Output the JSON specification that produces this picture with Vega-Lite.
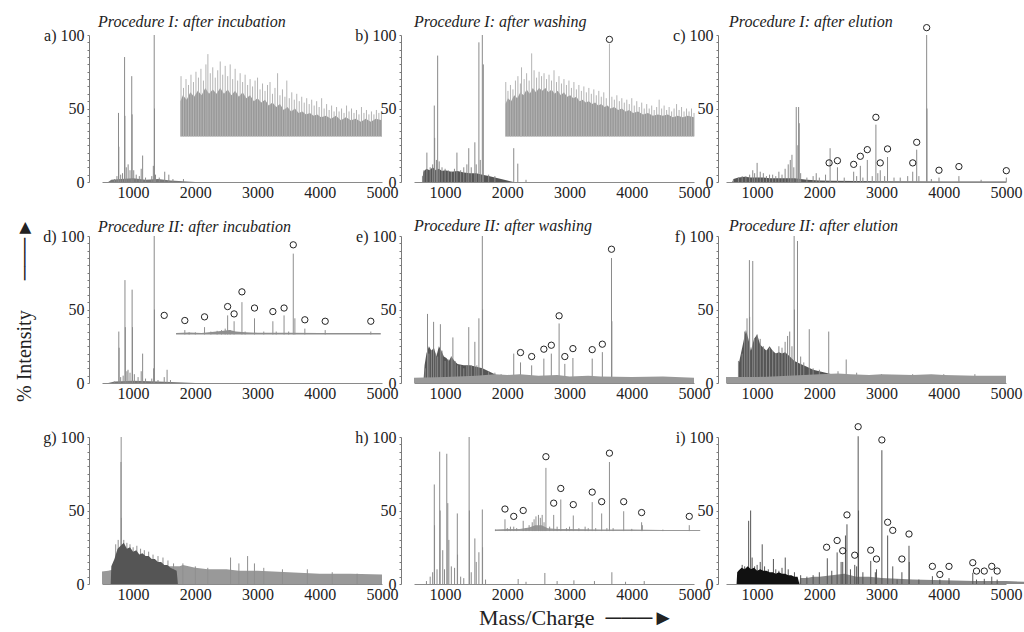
{
"$schema": "https://vega.github.io/schema/vega-lite/v6.json",
"background": "white",
"padding": {"left": 14, "top": 14, "right": 0, "bottom": 0},
"columns": 3,
"spacing": {"row": 54, "column": 32},
"bounds": "flush",
"config": {
  "view": {"stroke": null},
  "font": "Liberation Serif",
  "axis": {"grid": false, "domainColor": "#7a7a7a", "tickColor": "#7a7a7a", "labelFont": "Liberation Serif", "labelFontSize": 16, "labelColor": "#222", "titleFont": "Liberation Serif", "titleFontWeight": "normal", "titleColor": "#222", "labelFlush": false, "labelOverlap": false},
  "axisX": {"ticks": false, "labelPadding": 2, "domainColor": "#8a8a8a"},
  "axisY": {"tickSize": 2, "labelPadding": 3, "labelBaseline": "middle"},
  "title": {"anchor": "start", "frame": "group", "fontStyle": "italic", "fontWeight": "normal", "fontSize": 16, "font": "Liberation Serif", "color": "#222", "offset": -3, "baseline": "alphabetic"}
},
"datasets": {
  "a_peaks": [{"mz":700,"intensity":2},{"mz":740,"intensity":4},{"mz":765,"intensity":47},{"mz":770,"intensity":24},{"mz":800,"intensity":5},{"mz":830,"intensity":6},{"mz":863,"intensity":85},{"mz":868,"intensity":45},{"mz":890,"intensity":10},{"mz":920,"intensity":12},{"mz":950,"intensity":8},{"mz":978,"intensity":72},{"mz":984,"intensity":46},{"mz":1010,"intensity":8},{"mz":1050,"intensity":5},{"mz":1100,"intensity":4},{"mz":1130,"intensity":9},{"mz":1153,"intensity":18},{"mz":1200,"intensity":3},{"mz":1300,"intensity":4},{"mz":1325,"intensity":11},{"mz":1339,"intensity":100},{"mz":1344,"intensity":50},{"mz":1360,"intensity":5},{"mz":1420,"intensity":3},{"mz":1508,"intensity":7},{"mz":1574,"intensity":5},{"mz":1640,"intensity":2},{"mz":1809,"intensity":2}],
  "a_low": [{"mz":600,"intensity":0},{"mz":650,"intensity":1.5},{"mz":800,"intensity":2},{"mz":1000,"intensity":2.5},{"mz":1200,"intensity":1.5},{"mz":1400,"intensity":2},{"mz":1600,"intensity":1},{"mz":1800,"intensity":0.5},{"mz":2000,"intensity":0}],
  "a_inset": [{"mz":1760,"intensity":55},{"mz":1800,"intensity":59},{"mz":1860,"intensity":56},{"mz":1920,"intensity":61},{"mz":1980,"intensity":58},{"mz":2040,"intensity":62},{"mz":2100,"intensity":59},{"mz":2160,"intensity":64},{"mz":2220,"intensity":60},{"mz":2280,"intensity":63},{"mz":2340,"intensity":60},{"mz":2400,"intensity":64},{"mz":2460,"intensity":60},{"mz":2520,"intensity":63},{"mz":2580,"intensity":59},{"mz":2640,"intensity":62},{"mz":2700,"intensity":58},{"mz":2760,"intensity":61},{"mz":2820,"intensity":57},{"mz":2880,"intensity":59},{"mz":2940,"intensity":55},{"mz":3000,"intensity":57},{"mz":3060,"intensity":54},{"mz":3120,"intensity":56},{"mz":3180,"intensity":52},{"mz":3240,"intensity":54},{"mz":3300,"intensity":51},{"mz":3360,"intensity":53},{"mz":3420,"intensity":49},{"mz":3480,"intensity":51},{"mz":3540,"intensity":48},{"mz":3600,"intensity":50},{"mz":3660,"intensity":47},{"mz":3720,"intensity":48},{"mz":3780,"intensity":46},{"mz":3840,"intensity":47},{"mz":3900,"intensity":45},{"mz":3960,"intensity":46},{"mz":4020,"intensity":44},{"mz":4100,"intensity":45},{"mz":4180,"intensity":43},{"mz":4260,"intensity":45},{"mz":4340,"intensity":42},{"mz":4420,"intensity":44},{"mz":4500,"intensity":42},{"mz":4580,"intensity":43},{"mz":4660,"intensity":41},{"mz":4740,"intensity":43},{"mz":4820,"intensity":41},{"mz":4900,"intensity":43},{"mz":5000,"intensity":42}],
  "a_spikes": [{"mz":1770,"intensity":72},{"mz":1810,"intensity":64},{"mz":1850,"intensity":70},{"mz":1890,"intensity":66},{"mz":1930,"intensity":73},{"mz":1970,"intensity":68},{"mz":2010,"intensity":75},{"mz":2050,"intensity":71},{"mz":2090,"intensity":77},{"mz":2130,"intensity":69},{"mz":2170,"intensity":80},{"mz":2202,"intensity":87},{"mz":2240,"intensity":74},{"mz":2280,"intensity":78},{"mz":2320,"intensity":71},{"mz":2360,"intensity":76},{"mz":2400,"intensity":82},{"mz":2440,"intensity":73},{"mz":2480,"intensity":79},{"mz":2520,"intensity":72},{"mz":2560,"intensity":80},{"mz":2600,"intensity":70},{"mz":2640,"intensity":77},{"mz":2680,"intensity":69},{"mz":2720,"intensity":74},{"mz":2760,"intensity":68},{"mz":2800,"intensity":73},{"mz":2840,"intensity":66},{"mz":2880,"intensity":70},{"mz":2920,"intensity":65},{"mz":2960,"intensity":69},{"mz":3000,"intensity":71},{"mz":3040,"intensity":63},{"mz":3080,"intensity":67},{"mz":3120,"intensity":62},{"mz":3160,"intensity":66},{"mz":3200,"intensity":68},{"mz":3240,"intensity":60},{"mz":3280,"intensity":64},{"mz":3322,"intensity":74},{"mz":3360,"intensity":59},{"mz":3400,"intensity":63},{"mz":3440,"intensity":58},{"mz":3470,"intensity":69},{"mz":3510,"intensity":57},{"mz":3550,"intensity":61},{"mz":3590,"intensity":56},{"mz":3630,"intensity":60},{"mz":3670,"intensity":55},{"mz":3710,"intensity":58},{"mz":3750,"intensity":54},{"mz":3790,"intensity":57},{"mz":3830,"intensity":53},{"mz":3870,"intensity":56},{"mz":3910,"intensity":52},{"mz":3950,"intensity":55},{"mz":3990,"intensity":51},{"mz":4030,"intensity":57},{"mz":4070,"intensity":50},{"mz":4110,"intensity":53},{"mz":4150,"intensity":49},{"mz":4190,"intensity":52},{"mz":4230,"intensity":48},{"mz":4270,"intensity":51},{"mz":4310,"intensity":48},{"mz":4350,"intensity":50},{"mz":4390,"intensity":47},{"mz":4430,"intensity":52},{"mz":4470,"intensity":48},{"mz":4510,"intensity":50},{"mz":4550,"intensity":47},{"mz":4590,"intensity":49},{"mz":4630,"intensity":46},{"mz":4670,"intensity":51},{"mz":4710,"intensity":47},{"mz":4750,"intensity":49},{"mz":4790,"intensity":46},{"mz":4830,"intensity":48},{"mz":4870,"intensity":46},{"mz":4910,"intensity":49},{"mz":4950,"intensity":47},{"mz":4990,"intensity":48}],
  "b_peaks": [{"mz":636,"intensity":4},{"mz":660,"intensity":8},{"mz":707,"intensity":20},{"mz":760,"intensity":10},{"mz":800,"intensity":12},{"mz":826,"intensity":52},{"mz":832,"intensity":30},{"mz":860,"intensity":15},{"mz":880,"intensity":86},{"mz":905,"intensity":14},{"mz":950,"intensity":10},{"mz":1000,"intensity":9},{"mz":1050,"intensity":8},{"mz":1100,"intensity":7},{"mz":1150,"intensity":9},{"mz":1190,"intensity":20},{"mz":1250,"intensity":8},{"mz":1300,"intensity":10},{"mz":1350,"intensity":12},{"mz":1380,"intensity":23},{"mz":1420,"intensity":10},{"mz":1478,"intensity":27},{"mz":1500,"intensity":12},{"mz":1543,"intensity":95},{"mz":1565,"intensity":15},{"mz":1598,"intensity":100},{"mz":1614,"intensity":80},{"mz":1700,"intensity":5},{"mz":1800,"intensity":4},{"mz":2103,"intensity":23},{"mz":2168,"intensity":12.5},{"mz":2300,"intensity":1.5}],
  "b_dark": [{"mz":630,"intensity":0},{"mz":650,"intensity":7},{"mz":700,"intensity":9},{"mz":750,"intensity":8},{"mz":800,"intensity":10},{"mz":850,"intensity":8},{"mz":900,"intensity":9},{"mz":950,"intensity":7.5},{"mz":1000,"intensity":8},{"mz":1100,"intensity":7},{"mz":1200,"intensity":7.5},{"mz":1300,"intensity":6.5},{"mz":1400,"intensity":6},{"mz":1500,"intensity":6},{"mz":1600,"intensity":5},{"mz":1700,"intensity":4},{"mz":1800,"intensity":3},{"mz":1900,"intensity":2},{"mz":2000,"intensity":1},{"mz":2100,"intensity":0}],
  "b_inset": [{"mz":1970,"intensity":53},{"mz":2010,"intensity":57},{"mz":2060,"intensity":55},{"mz":2110,"intensity":59},{"mz":2160,"intensity":57},{"mz":2210,"intensity":61},{"mz":2260,"intensity":59},{"mz":2310,"intensity":63},{"mz":2360,"intensity":60},{"mz":2410,"intensity":64},{"mz":2460,"intensity":61},{"mz":2510,"intensity":64},{"mz":2560,"intensity":62},{"mz":2610,"intensity":64},{"mz":2660,"intensity":61},{"mz":2710,"intensity":63},{"mz":2760,"intensity":60},{"mz":2810,"intensity":62},{"mz":2860,"intensity":59},{"mz":2910,"intensity":61},{"mz":2960,"intensity":58},{"mz":3010,"intensity":59},{"mz":3060,"intensity":57},{"mz":3110,"intensity":58},{"mz":3160,"intensity":55},{"mz":3210,"intensity":56},{"mz":3260,"intensity":54},{"mz":3310,"intensity":55},{"mz":3360,"intensity":53},{"mz":3410,"intensity":54},{"mz":3460,"intensity":52},{"mz":3510,"intensity":53},{"mz":3560,"intensity":51},{"mz":3610,"intensity":52},{"mz":3660,"intensity":50},{"mz":3720,"intensity":51},{"mz":3780,"intensity":49},{"mz":3840,"intensity":50},{"mz":3900,"intensity":48},{"mz":3960,"intensity":49},{"mz":4020,"intensity":47},{"mz":4100,"intensity":48},{"mz":4180,"intensity":46},{"mz":4260,"intensity":47},{"mz":4340,"intensity":45},{"mz":4420,"intensity":46},{"mz":4500,"intensity":45},{"mz":4580,"intensity":46},{"mz":4660,"intensity":44},{"mz":4740,"intensity":45},{"mz":4820,"intensity":44},{"mz":4900,"intensity":45},{"mz":5000,"intensity":44}],
  "b_spikes": [{"mz":1975,"intensity":68},{"mz":2010,"intensity":62},{"mz":2050,"intensity":66},{"mz":2090,"intensity":63},{"mz":2130,"intensity":69},{"mz":2170,"intensity":72},{"mz":2210,"intensity":67},{"mz":2228,"intensity":78},{"mz":2270,"intensity":70},{"mz":2310,"intensity":74},{"mz":2350,"intensity":69},{"mz":2391,"intensity":87.5},{"mz":2430,"intensity":76},{"mz":2470,"intensity":71},{"mz":2510,"intensity":75},{"mz":2550,"intensity":72},{"mz":2590,"intensity":74},{"mz":2630,"intensity":70},{"mz":2670,"intensity":73},{"mz":2710,"intensity":69},{"mz":2750,"intensity":76},{"mz":2790,"intensity":68},{"mz":2830,"intensity":72},{"mz":2870,"intensity":67},{"mz":2910,"intensity":70},{"mz":2950,"intensity":66},{"mz":2990,"intensity":69},{"mz":3030,"intensity":64},{"mz":3070,"intensity":68},{"mz":3110,"intensity":63},{"mz":3150,"intensity":66},{"mz":3190,"intensity":62},{"mz":3230,"intensity":65},{"mz":3270,"intensity":61},{"mz":3310,"intensity":64},{"mz":3350,"intensity":60},{"mz":3390,"intensity":63},{"mz":3430,"intensity":59},{"mz":3470,"intensity":62},{"mz":3510,"intensity":58},{"mz":3550,"intensity":61},{"mz":3590,"intensity":57},{"mz":3641,"intensity":94},{"mz":3680,"intensity":58},{"mz":3720,"intensity":56},{"mz":3760,"intensity":59},{"mz":3800,"intensity":55},{"mz":3840,"intensity":57},{"mz":3880,"intensity":54},{"mz":3920,"intensity":56},{"mz":3960,"intensity":53},{"mz":4000,"intensity":57},{"mz":4040,"intensity":52},{"mz":4080,"intensity":55},{"mz":4120,"intensity":51},{"mz":4160,"intensity":54},{"mz":4200,"intensity":50},{"mz":4240,"intensity":53},{"mz":4280,"intensity":50},{"mz":4320,"intensity":52},{"mz":4360,"intensity":49},{"mz":4400,"intensity":51},{"mz":4440,"intensity":56},{"mz":4480,"intensity":50},{"mz":4520,"intensity":52},{"mz":4560,"intensity":49},{"mz":4600,"intensity":51},{"mz":4640,"intensity":48},{"mz":4680,"intensity":50},{"mz":4720,"intensity":53},{"mz":4760,"intensity":49},{"mz":4800,"intensity":51},{"mz":4840,"intensity":48},{"mz":4880,"intensity":50},{"mz":4920,"intensity":48},{"mz":4960,"intensity":50},{"mz":5000,"intensity":47}],
  "b_circles": [{"mz":3641,"intensity":97}],
  "c_peaks": [{"mz":620,"intensity":2},{"mz":700,"intensity":3},{"mz":760,"intensity":4},{"mz":820,"intensity":4},{"mz":880,"intensity":5},{"mz":930,"intensity":8},{"mz":960,"intensity":6},{"mz":1000,"intensity":13},{"mz":1050,"intensity":7},{"mz":1100,"intensity":6},{"mz":1150,"intensity":4},{"mz":1200,"intensity":5},{"mz":1250,"intensity":5},{"mz":1300,"intensity":4},{"mz":1350,"intensity":7},{"mz":1400,"intensity":5},{"mz":1450,"intensity":9},{"mz":1500,"intensity":12},{"mz":1533,"intensity":15},{"mz":1560,"intensity":18.5},{"mz":1590,"intensity":10},{"mz":1629,"intensity":51},{"mz":1655,"intensity":25},{"mz":1667,"intensity":51},{"mz":1677,"intensity":40},{"mz":1700,"intensity":6},{"mz":1800,"intensity":3},{"mz":1900,"intensity":4},{"mz":1950,"intensity":6},{"mz":2000,"intensity":3},{"mz":2100,"intensity":5},{"mz":2173,"intensity":23},{"mz":2291,"intensity":10},{"mz":2400,"intensity":3},{"mz":2552,"intensity":7},{"mz":2600,"intensity":4},{"mz":2659,"intensity":11},{"mz":2700,"intensity":3},{"mz":2771,"intensity":15},{"mz":2850,"intensity":4},{"mz":2909,"intensity":39},{"mz":2940,"intensity":6},{"mz":2979,"intensity":8},{"mz":3050,"intensity":4},{"mz":3096,"intensity":17},{"mz":3200,"intensity":3},{"mz":3300,"intensity":3},{"mz":3420,"intensity":4},{"mz":3501,"intensity":7},{"mz":3565,"intensity":22},{"mz":3600,"intensity":4},{"mz":3725,"intensity":100},{"mz":3730,"intensity":50},{"mz":3800,"intensity":2},{"mz":3923,"intensity":3},{"mz":4243,"intensity":4},{"mz":4600,"intensity":1.5},{"mz":5005,"intensity":3}],
  "c_dark": [{"mz":600,"intensity":0},{"mz":620,"intensity":2},{"mz":700,"intensity":3},{"mz":800,"intensity":3.5},{"mz":900,"intensity":3},{"mz":1000,"intensity":3},{"mz":1100,"intensity":3},{"mz":1200,"intensity":2.5},{"mz":1300,"intensity":2.5},{"mz":1400,"intensity":2.5},{"mz":1500,"intensity":2.5},{"mz":1600,"intensity":2.5},{"mz":1700,"intensity":2},{"mz":1800,"intensity":1.5},{"mz":2000,"intensity":1},{"mz":2200,"intensity":0.8},{"mz":3000,"intensity":0.5},{"mz":4000,"intensity":0.4},{"mz":5000,"intensity":0.3}],
  "c_circles": [{"mz":2157,"intensity":13},{"mz":2291,"intensity":14.5},{"mz":2552,"intensity":12},{"mz":2659,"intensity":17.5},{"mz":2771,"intensity":22},{"mz":2909,"intensity":44},{"mz":2979,"intensity":13},{"mz":3096,"intensity":22.5},{"mz":3501,"intensity":13},{"mz":3565,"intensity":27},{"mz":3725,"intensity":105},{"mz":3923,"intensity":8},{"mz":4243,"intensity":10.5},{"mz":5005,"intensity":7.7}],
  "d_peaks": [{"mz":700,"intensity":1},{"mz":770,"intensity":35},{"mz":775,"intensity":24},{"mz":800,"intensity":4},{"mz":840,"intensity":5},{"mz":869,"intensity":70},{"mz":875,"intensity":38},{"mz":900,"intensity":8},{"mz":918,"intensity":9},{"mz":950,"intensity":7},{"mz":984,"intensity":63.5},{"mz":990,"intensity":38},{"mz":1020,"intensity":6},{"mz":1080,"intensity":4},{"mz":1130,"intensity":8},{"mz":1153,"intensity":20},{"mz":1200,"intensity":3},{"mz":1300,"intensity":3},{"mz":1330,"intensity":10},{"mz":1339,"intensity":100},{"mz":1343,"intensity":50},{"mz":1400,"intensity":2},{"mz":1500,"intensity":4},{"mz":1546,"intensity":9},{"mz":1600,"intensity":2}],
  "d_low": [{"mz":600,"intensity":0},{"mz":700,"intensity":1},{"mz":1000,"intensity":1.5},{"mz":1400,"intensity":1},{"mz":1700,"intensity":0.5},{"mz":2000,"intensity":0}],
  "d_floor": [{"mz":1690,"intensity":34},{"mz":1900,"intensity":34.3},{"mz":2100,"intensity":34},{"mz":2300,"intensity":34.8},{"mz":2450,"intensity":35.5},{"mz":2550,"intensity":36},{"mz":2650,"intensity":35},{"mz":2800,"intensity":34.5},{"mz":3000,"intensity":34.2},{"mz":3500,"intensity":34.2},{"mz":4000,"intensity":34},{"mz":4500,"intensity":34},{"mz":4980,"intensity":34}],
  "d_inset": [{"mz":1831,"intensity":36},{"mz":1900,"intensity":34.5},{"mz":2000,"intensity":34.5},{"mz":2148,"intensity":38},{"mz":2250,"intensity":35},{"mz":2350,"intensity":35.5},{"mz":2420,"intensity":36},{"mz":2480,"intensity":37},{"mz":2519,"intensity":46},{"mz":2560,"intensity":36},{"mz":2623,"intensity":42},{"mz":2749,"intensity":55},{"mz":2800,"intensity":35},{"mz":2951,"intensity":44},{"mz":3100,"intensity":35},{"mz":3246,"intensity":42},{"mz":3300,"intensity":35},{"mz":3426,"intensity":46},{"mz":3500,"intensity":35},{"mz":3574,"intensity":88},{"mz":3600,"intensity":44},{"mz":3760,"intensity":37},{"mz":4087,"intensity":36},{"mz":4820,"intensity":35}],
  "d_circles": [{"mz":1500,"intensity":46},{"mz":1831,"intensity":42.5},{"mz":2148,"intensity":45},{"mz":2519,"intensity":52},{"mz":2623,"intensity":47},{"mz":2749,"intensity":62},{"mz":2951,"intensity":51},{"mz":3246,"intensity":48.6},{"mz":3426,"intensity":51},{"mz":3574,"intensity":94},{"mz":3760,"intensity":43},{"mz":4087,"intensity":42},{"mz":4820,"intensity":42}],
  "e_peaks": [{"mz":680,"intensity":10},{"mz":717,"intensity":47},{"mz":740,"intensity":20},{"mz":780,"intensity":22},{"mz":815,"intensity":41.6},{"mz":850,"intensity":20},{"mz":880,"intensity":18},{"mz":924,"intensity":40},{"mz":950,"intensity":22},{"mz":1000,"intensity":15},{"mz":1050,"intensity":16},{"mz":1100,"intensity":18},{"mz":1125,"intensity":31},{"mz":1160,"intensity":15},{"mz":1200,"intensity":12},{"mz":1250,"intensity":12},{"mz":1300,"intensity":10},{"mz":1350,"intensity":12},{"mz":1380,"intensity":38},{"mz":1420,"intensity":12},{"mz":1478,"intensity":28},{"mz":1510,"intensity":12},{"mz":1543,"intensity":44},{"mz":1598,"intensity":100},{"mz":1602,"intensity":50},{"mz":1700,"intensity":8},{"mz":1800,"intensity":7},{"mz":1900,"intensity":6},{"mz":2103,"intensity":20},{"mz":2212,"intensity":14},{"mz":2391,"intensity":12},{"mz":2587,"intensity":16.6},{"mz":2707,"intensity":20},{"mz":2832,"intensity":40.5},{"mz":2924,"intensity":13},{"mz":3054,"intensity":17},{"mz":3364,"intensity":16.6},{"mz":3527,"intensity":21},{"mz":3674,"intensity":85},{"mz":3680,"intensity":42}],
  "e_dark": [{"mz":650,"intensity":0},{"mz":670,"intensity":12},{"mz":700,"intensity":20},{"mz":740,"intensity":25},{"mz":780,"intensity":22},{"mz":820,"intensity":24},{"mz":860,"intensity":18},{"mz":900,"intensity":25},{"mz":940,"intensity":22},{"mz":980,"intensity":18},{"mz":1020,"intensity":17},{"mz":1060,"intensity":15},{"mz":1100,"intensity":18},{"mz":1150,"intensity":15},{"mz":1200,"intensity":13},{"mz":1300,"intensity":12},{"mz":1400,"intensity":12},{"mz":1500,"intensity":11},{"mz":1600,"intensity":10},{"mz":1700,"intensity":8},{"mz":1800,"intensity":6},{"mz":1900,"intensity":3},{"mz":2000,"intensity":0}],
  "e_light": [{"mz":500,"intensity":3.5},{"mz":1000,"intensity":4},{"mz":1500,"intensity":5},{"mz":1800,"intensity":6},{"mz":2000,"intensity":5.5},{"mz":2200,"intensity":6},{"mz":2500,"intensity":5},{"mz":2800,"intensity":5.5},{"mz":3000,"intensity":4.5},{"mz":3300,"intensity":5},{"mz":3500,"intensity":4.5},{"mz":4000,"intensity":4},{"mz":4500,"intensity":4.5},{"mz":5000,"intensity":3.5}],
  "e_circles": [{"mz":2212,"intensity":20.7},{"mz":2391,"intensity":18},{"mz":2587,"intensity":23},{"mz":2707,"intensity":25.7},{"mz":2832,"intensity":45.7},{"mz":2924,"intensity":18},{"mz":3054,"intensity":23.4},{"mz":3364,"intensity":22.7},{"mz":3527,"intensity":26.4},{"mz":3674,"intensity":91}],
  "f_peaks": [{"mz":700,"intensity":15},{"mz":760,"intensity":20},{"mz":800,"intensity":35},{"mz":838,"intensity":44},{"mz":876,"intensity":83.6},{"mz":880,"intensity":45},{"mz":930,"intensity":83},{"mz":960,"intensity":30},{"mz":1000,"intensity":33},{"mz":1050,"intensity":30},{"mz":1100,"intensity":25},{"mz":1150,"intensity":22},{"mz":1200,"intensity":24},{"mz":1250,"intensity":22},{"mz":1300,"intensity":20},{"mz":1350,"intensity":25},{"mz":1400,"intensity":24},{"mz":1450,"intensity":28},{"mz":1490,"intensity":32},{"mz":1524,"intensity":35},{"mz":1560,"intensity":25},{"mz":1595,"intensity":100},{"mz":1600,"intensity":50},{"mz":1649,"intensity":96.6},{"mz":1700,"intensity":18},{"mz":1750,"intensity":14},{"mz":1838,"intensity":36.6},{"mz":1900,"intensity":10},{"mz":2000,"intensity":9},{"mz":2151,"intensity":35},{"mz":2300,"intensity":8},{"mz":2432,"intensity":16},{"mz":2600,"intensity":7},{"mz":3000,"intensity":6},{"mz":3500,"intensity":6},{"mz":4000,"intensity":6},{"mz":4500,"intensity":6}],
  "f_dark": [{"mz":690,"intensity":0},{"mz":700,"intensity":12},{"mz":740,"intensity":20},{"mz":780,"intensity":28},{"mz":820,"intensity":36},{"mz":860,"intensity":30},{"mz":900,"intensity":22},{"mz":950,"intensity":30},{"mz":1000,"intensity":33},{"mz":1050,"intensity":26},{"mz":1100,"intensity":24},{"mz":1150,"intensity":22},{"mz":1200,"intensity":25},{"mz":1250,"intensity":22},{"mz":1300,"intensity":20},{"mz":1350,"intensity":21},{"mz":1400,"intensity":20},{"mz":1450,"intensity":21},{"mz":1500,"intensity":19},{"mz":1550,"intensity":17},{"mz":1600,"intensity":15},{"mz":1650,"intensity":14},{"mz":1700,"intensity":13},{"mz":1800,"intensity":11},{"mz":1900,"intensity":9},{"mz":2000,"intensity":8},{"mz":2100,"intensity":7},{"mz":2200,"intensity":6},{"mz":2300,"intensity":0}],
  "f_light": [{"mz":500,"intensity":4},{"mz":1000,"intensity":4},{"mz":1500,"intensity":5},{"mz":2000,"intensity":6},{"mz":2300,"intensity":6.5},{"mz":2500,"intensity":6},{"mz":2800,"intensity":5.5},{"mz":3000,"intensity":6},{"mz":3500,"intensity":5.5},{"mz":3800,"intensity":6},{"mz":4000,"intensity":5.5},{"mz":4500,"intensity":5},{"mz":5000,"intensity":5}],
  "g_peaks": [{"mz":720,"intensity":27},{"mz":760,"intensity":30},{"mz":805,"intensity":83},{"mz":808,"intensity":100},{"mz":812,"intensity":45},{"mz":850,"intensity":30},{"mz":900,"intensity":28},{"mz":950,"intensity":27},{"mz":1000,"intensity":25},{"mz":1060,"intensity":26},{"mz":1120,"intensity":24},{"mz":1180,"intensity":23},{"mz":1250,"intensity":22},{"mz":1320,"intensity":20},{"mz":1400,"intensity":19},{"mz":1480,"intensity":18},{"mz":1560,"intensity":16},{"mz":1650,"intensity":14},{"mz":1800,"intensity":14},{"mz":2000,"intensity":12},{"mz":2200,"intensity":11},{"mz":2566,"intensity":18},{"mz":2700,"intensity":14},{"mz":2840,"intensity":19},{"mz":2950,"intensity":14},{"mz":3100,"intensity":11},{"mz":3400,"intensity":10},{"mz":3800,"intensity":10},{"mz":4200,"intensity":8},{"mz":4600,"intensity":7}],
  "g_dark": [{"mz":640,"intensity":0},{"mz":650,"intensity":12},{"mz":700,"intensity":17},{"mz":750,"intensity":24},{"mz":800,"intensity":26},{"mz":850,"intensity":28},{"mz":900,"intensity":24},{"mz":950,"intensity":25},{"mz":1000,"intensity":22},{"mz":1050,"intensity":23},{"mz":1100,"intensity":20},{"mz":1150,"intensity":21},{"mz":1200,"intensity":19},{"mz":1250,"intensity":19},{"mz":1300,"intensity":17},{"mz":1350,"intensity":17},{"mz":1400,"intensity":15},{"mz":1450,"intensity":15},{"mz":1500,"intensity":13},{"mz":1550,"intensity":13},{"mz":1600,"intensity":11},{"mz":1650,"intensity":10},{"mz":1700,"intensity":9},{"mz":1720,"intensity":0}],
  "g_light": [{"mz":500,"intensity":8.5},{"mz":600,"intensity":9},{"mz":700,"intensity":10},{"mz":1000,"intensity":11},{"mz":1500,"intensity":12},{"mz":1750,"intensity":12},{"mz":1800,"intensity":13},{"mz":2000,"intensity":11},{"mz":2200,"intensity":10},{"mz":2500,"intensity":10},{"mz":2700,"intensity":9},{"mz":3000,"intensity":9},{"mz":3500,"intensity":8},{"mz":4000,"intensity":7},{"mz":4500,"intensity":7},{"mz":5000,"intensity":6.5}],
  "h_peaks": [{"mz":700,"intensity":2},{"mz":760,"intensity":5},{"mz":800,"intensity":8},{"mz":826,"intensity":67.7},{"mz":830,"intensity":40},{"mz":870,"intensity":10},{"mz":913,"intensity":90},{"mz":920,"intensity":50},{"mz":962,"intensity":23},{"mz":990,"intensity":10},{"mz":1027,"intensity":88.6},{"mz":1043,"intensity":55},{"mz":1060,"intensity":30},{"mz":1100,"intensity":12},{"mz":1152,"intensity":11},{"mz":1196,"intensity":48},{"mz":1200,"intensity":20},{"mz":1250,"intensity":5},{"mz":1300,"intensity":4},{"mz":1386,"intensity":100},{"mz":1390,"intensity":50},{"mz":1420,"intensity":8},{"mz":1478,"intensity":31},{"mz":1500,"intensity":15},{"mz":1543,"intensity":21.6},{"mz":1598,"intensity":50.7},{"mz":1602,"intensity":25},{"mz":1650,"intensity":3},{"mz":2174,"intensity":3.4},{"mz":2300,"intensity":1.5},{"mz":2603,"intensity":7.5},{"mz":2800,"intensity":2},{"mz":3070,"intensity":2.5},{"mz":3400,"intensity":2},{"mz":3680,"intensity":8},{"mz":3900,"intensity":1.5},{"mz":4200,"intensity":2}],
  "h_floor": [{"mz":1800,"intensity":37},{"mz":2000,"intensity":37.5},{"mz":2200,"intensity":37.5},{"mz":2350,"intensity":38.5},{"mz":2450,"intensity":40},{"mz":2550,"intensity":40},{"mz":2650,"intensity":38},{"mz":2800,"intensity":37.5},{"mz":3000,"intensity":37.5},{"mz":3500,"intensity":37},{"mz":4000,"intensity":37},{"mz":4500,"intensity":36.8},{"mz":5100,"intensity":36.8}],
  "h_inset": [{"mz":1810,"intensity":37},{"mz":1962,"intensity":44},{"mz":2000,"intensity":38},{"mz":2050,"intensity":39},{"mz":2103,"intensity":39},{"mz":2150,"intensity":38},{"mz":2255,"intensity":43},{"mz":2300,"intensity":38},{"mz":2350,"intensity":40},{"mz":2400,"intensity":42},{"mz":2430,"intensity":44},{"mz":2460,"intensity":46},{"mz":2500,"intensity":47},{"mz":2530,"intensity":45},{"mz":2560,"intensity":47},{"mz":2590,"intensity":42},{"mz":2620,"intensity":79},{"mz":2680,"intensity":39},{"mz":2745,"intensity":47},{"mz":2800,"intensity":39},{"mz":2859,"intensity":57.5},{"mz":2950,"intensity":38},{"mz":3000,"intensity":39},{"mz":3060,"intensity":46.6},{"mz":3150,"intensity":38},{"mz":3250,"intensity":39},{"mz":3300,"intensity":38},{"mz":3364,"intensity":55.7},{"mz":3420,"intensity":38},{"mz":3516,"intensity":48},{"mz":3600,"intensity":38},{"mz":3641,"intensity":83},{"mz":3700,"intensity":38},{"mz":3870,"intensity":49.5},{"mz":4000,"intensity":37.5},{"mz":4158,"intensity":42},{"mz":4170,"intensity":40},{"mz":4500,"intensity":37},{"mz":4924,"intensity":40}],
  "h_circles": [{"mz":1962,"intensity":51},{"mz":2103,"intensity":46},{"mz":2255,"intensity":50},{"mz":2620,"intensity":86.6},{"mz":2745,"intensity":55},{"mz":2859,"intensity":65},{"mz":3060,"intensity":54},{"mz":3364,"intensity":62.5},{"mz":3516,"intensity":56},{"mz":3641,"intensity":89},{"mz":3870,"intensity":56},{"mz":4158,"intensity":48.6},{"mz":4924,"intensity":46}],
  "i_peaks": [{"mz":700,"intensity":8},{"mz":760,"intensity":13},{"mz":800,"intensity":12},{"mz":864,"intensity":43},{"mz":896,"intensity":50},{"mz":920,"intensity":18},{"mz":960,"intensity":12},{"mz":1000,"intensity":13},{"mz":1050,"intensity":15},{"mz":1082,"intensity":27},{"mz":1120,"intensity":12},{"mz":1180,"intensity":10},{"mz":1262,"intensity":17},{"mz":1300,"intensity":10},{"mz":1350,"intensity":9},{"mz":1400,"intensity":11},{"mz":1452,"intensity":18},{"mz":1500,"intensity":10},{"mz":1600,"intensity":8},{"mz":1700,"intensity":6},{"mz":1800,"intensity":5},{"mz":1900,"intensity":6},{"mz":2000,"intensity":8},{"mz":2128,"intensity":17.5},{"mz":2200,"intensity":9},{"mz":2286,"intensity":21.5},{"mz":2350,"intensity":15},{"mz":2376,"intensity":15},{"mz":2420,"intensity":33},{"mz":2444,"intensity":40.6},{"mz":2500,"intensity":10},{"mz":2569,"intensity":13},{"mz":2600,"intensity":12},{"mz":2624,"intensity":100.5},{"mz":2630,"intensity":50},{"mz":2700,"intensity":8},{"mz":2826,"intensity":15.7},{"mz":2900,"intensity":8},{"mz":2918,"intensity":10},{"mz":3005,"intensity":91},{"mz":3098,"intensity":33},{"mz":3180,"intensity":12},{"mz":3250,"intensity":3},{"mz":3327,"intensity":8},{"mz":3441,"intensity":26},{"mz":3445,"intensity":15},{"mz":3600,"intensity":3},{"mz":3817,"intensity":5.3},{"mz":3937,"intensity":3},{"mz":4084,"intensity":4},{"mz":4466,"intensity":7.6},{"mz":4526,"intensity":3},{"mz":4651,"intensity":3.5},{"mz":4771,"intensity":5},{"mz":4858,"intensity":3}],
  "i_dark": [{"mz":670,"intensity":0},{"mz":680,"intensity":8},{"mz":700,"intensity":9},{"mz":750,"intensity":11},{"mz":800,"intensity":10},{"mz":850,"intensity":12},{"mz":900,"intensity":10},{"mz":950,"intensity":11},{"mz":1000,"intensity":9},{"mz":1050,"intensity":10},{"mz":1100,"intensity":9},{"mz":1150,"intensity":9},{"mz":1200,"intensity":8},{"mz":1250,"intensity":8},{"mz":1300,"intensity":7},{"mz":1350,"intensity":8},{"mz":1400,"intensity":7},{"mz":1450,"intensity":7},{"mz":1500,"intensity":6},{"mz":1550,"intensity":6},{"mz":1600,"intensity":5},{"mz":1650,"intensity":5},{"mz":1680,"intensity":0}],
  "i_light": [{"mz":1680,"intensity":0},{"mz":1690,"intensity":4},{"mz":1800,"intensity":4},{"mz":1900,"intensity":5},{"mz":2000,"intensity":5},{"mz":2200,"intensity":6},{"mz":2400,"intensity":7},{"mz":2600,"intensity":5},{"mz":2800,"intensity":5},{"mz":3000,"intensity":4},{"mz":3500,"intensity":3},{"mz":4000,"intensity":2.5},{"mz":4500,"intensity":2},{"mz":5000,"intensity":2},{"mz":5300,"intensity":1.5}],
  "i_circles": [{"mz":2117,"intensity":25},{"mz":2286,"intensity":29.6},{"mz":2376,"intensity":22.6},{"mz":2444,"intensity":47},{"mz":2569,"intensity":19.6},{"mz":2624,"intensity":107},{"mz":2826,"intensity":23},{"mz":2918,"intensity":17},{"mz":3005,"intensity":98},{"mz":3098,"intensity":42},{"mz":3180,"intensity":36.5},{"mz":3327,"intensity":17},{"mz":3441,"intensity":34},{"mz":3817,"intensity":12},{"mz":3937,"intensity":6.5},{"mz":4084,"intensity":12},{"mz":4466,"intensity":14.5},{"mz":4526,"intensity":8.8},{"mz":4651,"intensity":8.8},{"mz":4771,"intensity":12},{"mz":4858,"intensity":8.8}]
},
"concat": [
 {
  "title": {"text": "Procedure I: after incubation", "dx": -4},
  "width": 280, "height": 147,
  "encoding": {
   "x": {"field": "mz", "type": "quantitative", "scale": {"domain": [500, 5000], "nice": false, "zero": false}, "axis": {"values": [1000,2000,3000,4000,5000], "format": "d", "title": null}},
   "y": {"field": "intensity", "type": "quantitative", "scale": {"domain": [0, 100], "nice": false}, "axis": {"values": [0,5,10,15,20,25,30,35,40,45,50,55,60,65,70,75,80,85,90,95,100], "title": null, "offset": 13, "labelExpr": "datum.value == 100 ? 'a) 100' : datum.value == 50 ? '50' : datum.value == 0 ? '0' : ''"}}
  },
  "layer": [
   {"data": {"name": "a_low"}, "mark": {"type": "area", "color": "#777"}},
   {"data": {"name": "a_peaks"}, "mark": {"type": "rule", "color": "#8a8a8a", "strokeWidth": 1}, "encoding": {"y2": {"datum": 0}}},
   {"data": {"name": "a_inset"}, "mark": {"type": "area", "color": "#999999"}, "encoding": {"y2": {"datum": 31}}},
   {"data": {"name": "a_spikes"}, "mark": {"type": "rule", "color": "#b4b4b4", "strokeWidth": 1}, "encoding": {"y2": {"datum": 31}}}
  ]
 },
 {
  "title": {"text": "Procedure I: after washing"},
  "width": 280, "height": 147,
  "encoding": {
   "x": {"field": "mz", "type": "quantitative", "scale": {"domain": [500, 5000], "nice": false, "zero": false}, "axis": {"values": [1000,2000,3000,4000,5000], "format": "d", "title": null}},
   "y": {"field": "intensity", "type": "quantitative", "scale": {"domain": [0, 100], "nice": false}, "axis": {"values": [0,5,10,15,20,25,30,35,40,45,50,55,60,65,70,75,80,85,90,95,100], "title": null, "offset": 13, "labelExpr": "datum.value == 100 ? 'b) 100' : datum.value == 50 ? '50' : datum.value == 0 ? '0' : ''"}}
  },
  "layer": [
   {"data": {"name": "b_dark"}, "mark": {"type": "area", "color": "#555"}},
   {"data": {"name": "b_peaks"}, "mark": {"type": "rule", "color": "#8a8a8a", "strokeWidth": 1}, "encoding": {"y2": {"datum": 0}}},
   {"data": {"name": "b_inset"}, "mark": {"type": "area", "color": "#999999"}, "encoding": {"y2": {"datum": 31}}},
   {"data": {"name": "b_spikes"}, "mark": {"type": "rule", "color": "#b4b4b4", "strokeWidth": 1}, "encoding": {"y2": {"datum": 31}}},
   {"data": {"name": "b_circles"}, "mark": {"type": "point", "shape": "circle", "filled": false, "stroke": "#222", "strokeWidth": 1, "size": 40, "opacity": 1}}
  ]
 },
 {
  "title": {"text": "Procedure I: after elution", "dx": 3, "offset": -8},
  "width": 280, "height": 147,
  "encoding": {
   "x": {"field": "mz", "type": "quantitative", "scale": {"domain": [500, 5000], "nice": false, "zero": false}, "axis": {"values": [1000,2000,3000,4000,5000], "format": "d", "title": null}},
   "y": {"field": "intensity", "type": "quantitative", "scale": {"domain": [0, 100], "nice": false}, "axis": {"values": [0,5,10,15,20,25,30,35,40,45,50,55,60,65,70,75,80,85,90,95,100], "title": null, "offset": 8, "labelExpr": "datum.value == 100 ? 'c) 100' : datum.value == 50 ? '50' : datum.value == 0 ? '0' : ''"}}
  },
  "layer": [
   {"data": {"name": "c_dark"}, "mark": {"type": "area", "color": "#555"}},
   {"data": {"name": "c_peaks"}, "mark": {"type": "rule", "color": "#8a8a8a", "strokeWidth": 1}, "encoding": {"y2": {"datum": 0}}},
   {"data": {"name": "c_circles"}, "mark": {"type": "point", "shape": "circle", "filled": false, "stroke": "#222", "strokeWidth": 1, "size": 40, "opacity": 1}}
  ]
 },
 {
  "title": {"text": "Procedure II: after incubation", "dx": -4, "offset": -17},
  "width": 280, "height": 147,
  "encoding": {
   "x": {"field": "mz", "type": "quantitative", "scale": {"domain": [500, 5000], "nice": false, "zero": false}, "axis": {"values": [1000,2000,3000,4000,5000], "format": "d", "title": null}},
   "y": {"field": "intensity", "type": "quantitative", "scale": {"domain": [0, 100], "nice": false}, "axis": {"values": [0,5,10,15,20,25,30,35,40,45,50,55,60,65,70,75,80,85,90,95,100], "title": "% Intensity\u2003\u2002───►", "titleFontSize": 20, "titlePadding": 8, "offset": 13, "labelExpr": "datum.value == 100 ? 'd) 100' : datum.value == 50 ? '50' : datum.value == 0 ? '0' : ''"}}
  },
  "layer": [
   {"data": {"name": "d_low"}, "mark": {"type": "area", "color": "#777"}},
   {"data": {"name": "d_peaks"}, "mark": {"type": "rule", "color": "#8a8a8a", "strokeWidth": 1}, "encoding": {"y2": {"datum": 0}}},
   {"data": {"name": "d_floor"}, "mark": {"type": "area", "color": "#8f8f8f"}, "encoding": {"y2": {"datum": 33}}},
   {"data": {"name": "d_inset"}, "mark": {"type": "rule", "color": "#8f8f8f", "strokeWidth": 1}, "encoding": {"y2": {"datum": 33}}},
   {"data": {"name": "d_circles"}, "mark": {"type": "point", "shape": "circle", "filled": false, "stroke": "#222", "strokeWidth": 1, "size": 40, "opacity": 1}}
  ]
 },
 {
  "title": {"text": "Procedure II: after washing", "offset": -6},
  "width": 280, "height": 147,
  "encoding": {
   "x": {"field": "mz", "type": "quantitative", "scale": {"domain": [500, 5000], "nice": false, "zero": false}, "axis": {"values": [1000,2000,3000,4000,5000], "format": "d", "title": null}},
   "y": {"field": "intensity", "type": "quantitative", "scale": {"domain": [0, 100], "nice": false}, "axis": {"values": [0,5,10,15,20,25,30,35,40,45,50,55,60,65,70,75,80,85,90,95,100], "title": null, "offset": 13, "labelExpr": "datum.value == 100 ? 'e) 100' : datum.value == 50 ? '50' : datum.value == 0 ? '0' : ''"}}
  },
  "layer": [
   {"data": {"name": "e_dark"}, "mark": {"type": "area", "color": "#555"}},
   {"data": {"name": "e_peaks"}, "mark": {"type": "rule", "color": "#8a8a8a", "strokeWidth": 1}, "encoding": {"y2": {"datum": 0}}},
   {"data": {"name": "e_light"}, "mark": {"type": "area", "color": "#999999"}},
   {"data": {"name": "e_circles"}, "mark": {"type": "point", "shape": "circle", "filled": false, "stroke": "#222", "strokeWidth": 1, "size": 40, "opacity": 1}}
  ]
 },
 {
  "title": {"text": "Procedure II: after elution", "dx": 3, "offset": -6},
  "width": 280, "height": 147,
  "encoding": {
   "x": {"field": "mz", "type": "quantitative", "scale": {"domain": [500, 5000], "nice": false, "zero": false}, "axis": {"values": [1000,2000,3000,4000,5000], "format": "d", "title": null}},
   "y": {"field": "intensity", "type": "quantitative", "scale": {"domain": [0, 100], "nice": false}, "axis": {"values": [0,5,10,15,20,25,30,35,40,45,50,55,60,65,70,75,80,85,90,95,100], "title": null, "offset": 8, "labelExpr": "datum.value == 100 ? 'f) 100' : datum.value == 50 ? '50' : datum.value == 0 ? '0' : ''"}}
  },
  "layer": [
   {"data": {"name": "f_dark"}, "mark": {"type": "area", "color": "#555"}},
   {"data": {"name": "f_peaks"}, "mark": {"type": "rule", "color": "#8a8a8a", "strokeWidth": 1}, "encoding": {"y2": {"datum": 0}}},
   {"data": {"name": "f_light"}, "mark": {"type": "area", "color": "#999999"}}
  ]
 },
 {
  "width": 280, "height": 147,
  "encoding": {
   "x": {"field": "mz", "type": "quantitative", "scale": {"domain": [500, 5000], "nice": false, "zero": false}, "axis": {"values": [1000,2000,3000,4000,5000], "format": "d", "title": null}},
   "y": {"field": "intensity", "type": "quantitative", "scale": {"domain": [0, 100], "nice": false}, "axis": {"values": [0,5,10,15,20,25,30,35,40,45,50,55,60,65,70,75,80,85,90,95,100], "title": null, "offset": 13, "labelExpr": "datum.value == 100 ? 'g) 100' : datum.value == 50 ? '50' : datum.value == 0 ? '0' : ''"}}
  },
  "layer": [
   {"data": {"name": "g_light"}, "mark": {"type": "area", "color": "#999999"}},
   {"data": {"name": "g_peaks"}, "mark": {"type": "rule", "color": "#8f8f8f", "strokeWidth": 1}, "encoding": {"y2": {"datum": 0}}},
   {"data": {"name": "g_dark"}, "mark": {"type": "area", "color": "#555"}}
  ]
 },
 {
  "width": 280, "height": 147,
  "encoding": {
   "x": {"field": "mz", "type": "quantitative", "scale": {"domain": [500, 5000], "nice": false, "zero": false}, "axis": {"values": [1000,2000,3000,4000,5000], "format": "d", "title": "Mass/Charge\u2002───►", "titleFontSize": 22, "titleX": 162, "titleY": 40, "titleAlign": "center", "titleBaseline": "alphabetic"}},
   "y": {"field": "intensity", "type": "quantitative", "scale": {"domain": [0, 100], "nice": false}, "axis": {"values": [0,5,10,15,20,25,30,35,40,45,50,55,60,65,70,75,80,85,90,95,100], "title": null, "offset": 13, "labelExpr": "datum.value == 100 ? 'h) 100' : datum.value == 50 ? '50' : datum.value == 0 ? '0' : ''"}}
  },
  "layer": [
   {"data": {"name": "h_peaks"}, "mark": {"type": "rule", "color": "#8a8a8a", "strokeWidth": 1}, "encoding": {"y2": {"datum": 0}}},
   {"data": {"name": "h_floor"}, "mark": {"type": "area", "color": "#999999"}, "encoding": {"y2": {"datum": 36}}},
   {"data": {"name": "h_inset"}, "mark": {"type": "rule", "color": "#8f8f8f", "strokeWidth": 1}, "encoding": {"y2": {"datum": 36}}},
   {"data": {"name": "h_circles"}, "mark": {"type": "point", "shape": "circle", "filled": false, "stroke": "#222", "strokeWidth": 1, "size": 40, "opacity": 1}}
  ]
 },
 {
  "width": 280, "height": 147,
  "encoding": {
   "x": {"field": "mz", "type": "quantitative", "scale": {"domain": [500, 5000], "nice": false, "zero": false}, "axis": {"values": [1000,2000,3000,4000,5000], "format": "d", "title": null}},
   "y": {"field": "intensity", "type": "quantitative", "scale": {"domain": [0, 100], "nice": false}, "axis": {"values": [0,5,10,15,20,25,30,35,40,45,50,55,60,65,70,75,80,85,90,95,100], "title": null, "offset": 8, "labelExpr": "datum.value == 100 ? 'i) 100' : datum.value == 50 ? '50' : datum.value == 0 ? '0' : ''"}}
  },
  "layer": [
   {"data": {"name": "i_light"}, "mark": {"type": "area", "color": "#888"}},
   {"data": {"name": "i_peaks"}, "mark": {"type": "rule", "color": "#555", "strokeWidth": 1}, "encoding": {"y2": {"datum": 0}}},
   {"data": {"name": "i_dark"}, "mark": {"type": "area", "color": "#111"}},
   {"data": {"name": "i_circles"}, "mark": {"type": "point", "shape": "circle", "filled": false, "stroke": "#222", "strokeWidth": 1, "size": 40, "opacity": 1}}
  ]
 }
]
}
